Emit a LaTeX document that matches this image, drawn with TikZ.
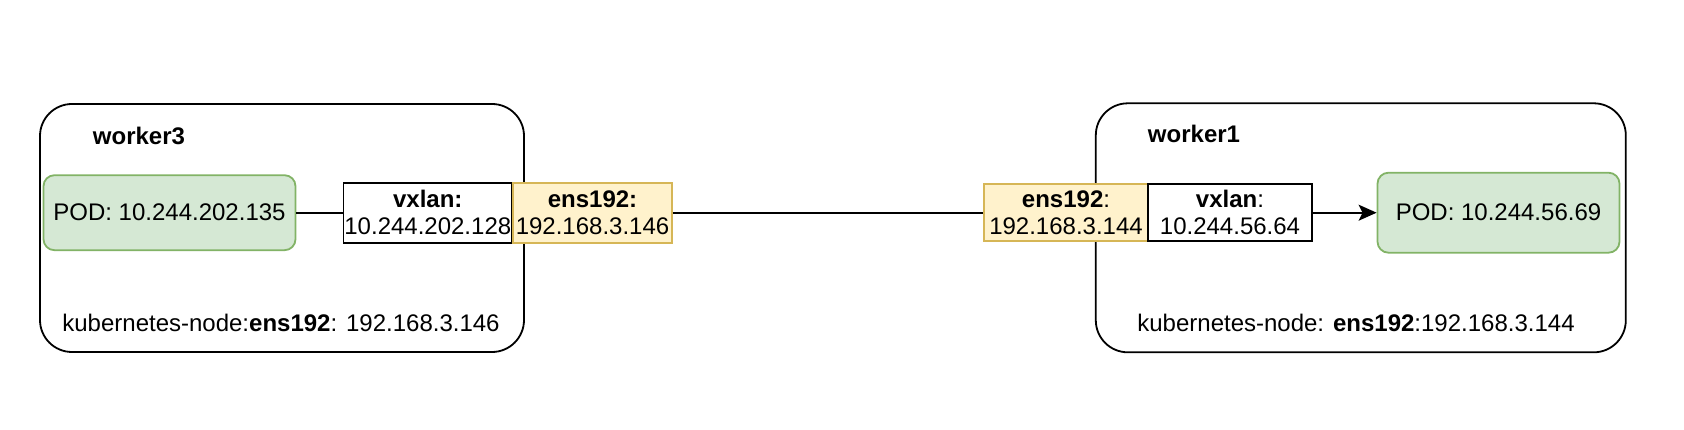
\documentclass[tikz,border=0pt]{standalone}
\usepackage{fontspec}
\setmainfont{Liberation Sans}
\usetikzlibrary{arrows.meta}
\definecolor{podfill}{HTML}{D5E8D4}
\definecolor{podline}{HTML}{82B366}
\definecolor{ensfill}{HTML}{FFF2CC}
\definecolor{ensline}{HTML}{D6B656}
\begin{document}
\begin{tikzpicture}[x=1pt,y=-1pt,
  every node/.style={font=\fontsize{24}{27}\selectfont, inner sep=0pt},
  host/.style={draw=black, line width=1.8pt, rounded corners=32pt},
  pod/.style={draw=podline, fill=podfill, line width=1.8pt, rounded corners=11pt},
  vx/.style={draw=black, fill=white, line width=1.8pt, align=center},
  ens/.style={draw=ensline, fill=ensfill, line width=1.8pt, align=center},
  conn/.style={line width=1.8pt},
  arr/.style={conn, -{Stealth[length=18pt,width=16pt,inset=4pt]}},
]
\useasboundingbox (0,0) rectangle (1684,430);
% host boxes
\node[host, minimum width=484pt, minimum height=248pt] (w3) at (282,228) {};
\node[host, minimum width=530pt, minimum height=249pt] (w1) at (1360.8,227.8) {};
% titles
\node (t3) at (139,135.5) {\textbf{worker3}};
\node (t1) at (1194,134) {\textbf{worker1}};
% left side
\node[pod, minimum width=252pt, minimum height=75pt] (podL) at (169.5,212.7) {POD: 10.244.202.135};
\node[vx, minimum width=168.5pt, minimum height=60pt] (vxL) at (427.8,212.7) {\textbf{vxlan:}\\10.244.202.128};
\node[ens, minimum width=159pt, minimum height=60pt] (ensL) at (592.5,212.7) {\textbf{ens192:}\\192.168.3.146};
% right side
\node[ens, minimum width=164pt, minimum height=57pt] (ensR) at (1066,212.7) {\textbf{ens192}:\\192.168.3.144};
\node[vx, minimum width=164pt, minimum height=57pt] (vxR) at (1230,212.7) {\textbf{vxlan}:\\10.244.56.64};
\node[pod, minimum width=242pt, minimum height=80pt] (podR) at (1498.5,212.7) {POD: 10.244.56.69};
% footers
\node (k3) at (281,323) {kubernetes-node:\textbf{ens192}: 192.168.3.146};
\node (k1) at (1356,323) {kubernetes-node: \textbf{ens192}:192.168.3.144};
% connectors
\draw[conn] (podL) -- (vxL);
\draw[conn] (ensL) -- (ensR);
\draw[arr] (vxR) -- (podR);
\end{tikzpicture}
\end{document}
